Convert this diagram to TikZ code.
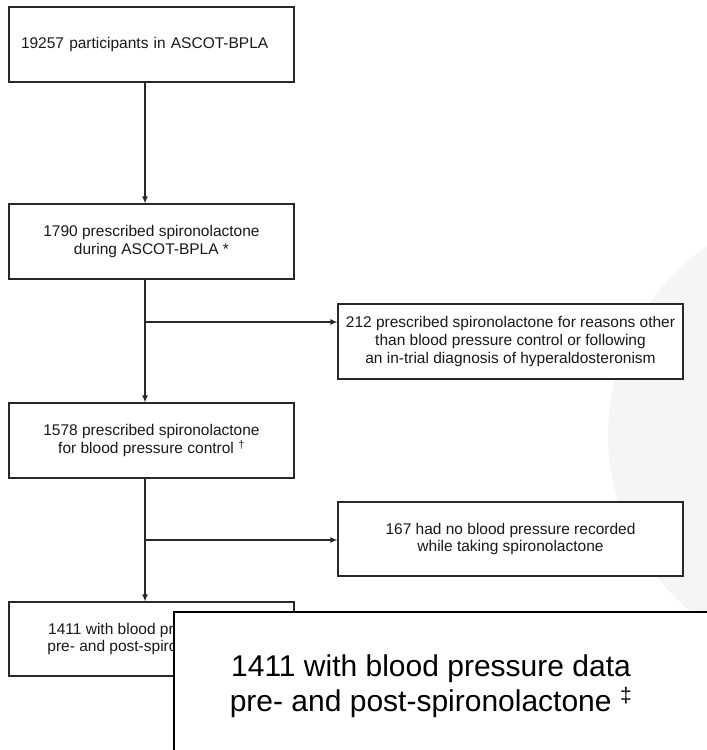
\documentclass[tikz,border=0pt]{standalone}
\usepackage{fontspec}
\setmainfont{Liberation Sans}
\usetikzlibrary{arrows.meta}
\definecolor{disc}{RGB}{245,245,245}
\definecolor{boxline}{RGB}{40,40,40}

\begin{document}
\begin{tikzpicture}[x=1pt,y=-1pt,
  box/.style={draw=boxline, line width=1.2pt, fill=white, minimum width=285pt, minimum height=75pt, inner sep=0pt, align=center, text=black!90, font=\fontsize{15.5}{17.8}\selectfont},
  sidebox/.style={box, minimum width=345pt},
  flow/.style={draw=boxline, line width=1.2pt, -{Latex[length=7pt,width=6pt]}}]
\useasboundingbox (0,0) rectangle (707,750);
\clip (0,0) rectangle (707,750);
% pale disc in the background
\fill[disc] (838,435) circle[radius=230pt];

\node[box, align=left, text width=261pt] (all) at (151.5,44.5) {19257 participants in ASCOT-BPLA};
\node[box] (spiro) at (151.5,241.5) {1790 prescribed spironolactone\\during ASCOT-BPLA *};
\node[box] (bp) at (151.5,440.5) {1578 prescribed spironolactone\\for blood pressure control \textsuperscript{†}};
\node[box, minimum height=74pt] (data) at (151.5,639) {1411 with blood pressure data\\pre- and post-spironolactone \textsuperscript{‡}};
\node[sidebox] (other) at (510.5,341.5) {212 prescribed spironolactone for reasons other\\than blood pressure control or following\\an in-trial diagnosis of hyperaldosteronism};
\node[sidebox, minimum height=74pt] (norec) at (510.5,539) {167 had no blood pressure recorded\\while taking spironolactone};

\coordinate (s1) at (145,322);
\coordinate (s2) at (145,540);
\draw[flow] (all.south -| s1) -- (spiro.north -| s1);
\draw[flow] (spiro.south -| s1) -- (bp.north -| s1);
\draw[flow] (s1) -- (s1 -| other.west);
\draw[flow] (bp.south -| s2) -- (data.north -| s2);
\draw[flow] (s2) -- (s2 -| norec.west);

% enlarged view of the last box
\draw[line width=2.5pt, fill=white] (174,612) rectangle (760,800);
\node[font=\fontsize{30}{35}\selectfont, align=center] (zoomtext) at (431,686) {1411 with blood pressure data\\pre- and post-spironolactone \textsuperscript{‡}};
\end{tikzpicture}
\end{document}
